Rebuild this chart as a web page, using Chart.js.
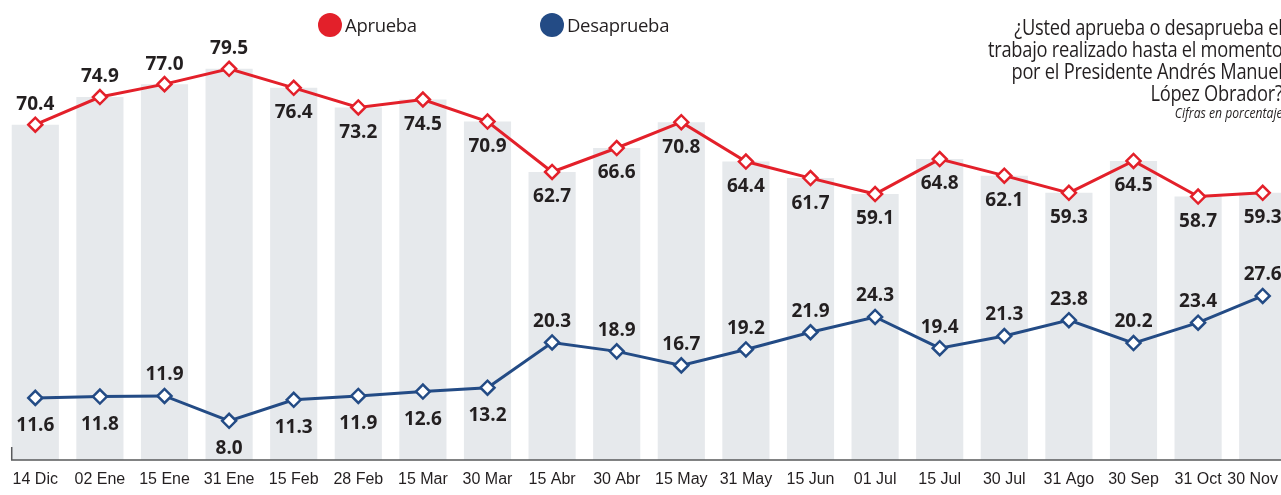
<!DOCTYPE html>
<html>
<head>
<meta charset="utf-8">
<script src="https://cdn.jsdelivr.net/npm/chart.js@4.4.1/dist/chart.umd.min.js"></script>
<style>
  body { margin: 0; background: #fff; }
  #wrap { position: relative; width: 1281px; height: 495px; overflow: hidden; }
  #wrap canvas { position: absolute; left: 0; top: 0; }
  .leg { position: absolute; top: 13px; font-family: "Open Sans", sans-serif; font-size: 18.5px; color: #231f20; line-height: 24px; letter-spacing: -0.3px; }
  .leg span { display: inline-block; width: 24px; height: 24px; border-radius: 50%; vertical-align: top; margin-right: 3px; }
  #title { position: absolute; right: -2px; top: 16px; text-align: right; font-family: "Open Sans", sans-serif; font-size: 21px; line-height: 22px; color: #231f20; white-space: nowrap; transform: scaleX(0.87); transform-origin: right top; letter-spacing: -0.3px; }
  #title i { display: block; font-size: 14px; line-height: 17px; letter-spacing: 0; }
</style>
</head>
<body>
<div id="wrap">
  <canvas id="chart" width="1300" height="495"></canvas>
  <div class="leg" style="left:318px"><span style="background:#e3202a"></span>Aprueba</div>
  <div class="leg" style="left:540px"><span style="background:#234b85"></span>Desaprueba</div>
  <div id="title">¿Usted aprueba o desaprueba el<br>trabajo realizado hasta el momento<br>por el Presidente Andrés Manuel<br>López Obrador?<i>Cifras en porcentaje</i></div>
</div>
<script>
const fechas = ['14 Dic', '02 Ene', '15 Ene', '31 Ene', '15 Feb', '28 Feb', '15 Mar', '30 Mar', '15 Abr', '30 Abr',
  '15 May', '31 May', '15 Jun', '01 Jul', '15 Jul', '30 Jul', '31 Ago', '30 Sep', '31 Oct', '30 Nov'];
const aprueba = [70.4, 74.9, 77.0, 79.5, 76.4, 73.2, 74.5, 70.9, 62.7, 66.6,
  70.8, 64.4, 61.7, 59.1, 64.8, 62.1, 59.3, 64.5, 58.7, 59.3];
const desaprueba = [11.6, 11.8, 11.9, 8.0, 11.3, 11.9, 12.6, 13.2, 20.3, 18.9,
  16.7, 19.2, 21.9, 24.3, 19.4, 21.3, 23.8, 20.2, 23.4, 27.6];

const RED = '#e3202a';
const BLUE = '#234b85';
const VISIBLE_W = 1281;

// numbers above / below the diamonds
const valueLabels = {
  id: 'valueLabels',
  afterDatasetsDraw(chart) {
    const ctx = chart.ctx;
    ctx.save();
    ctx.font = 'bold 19px "Open Sans", sans-serif';
    ctx.fillStyle = '#231f20';
    ctx.textAlign = 'center';
    ctx.textBaseline = 'middle';
    chart.getDatasetMeta(0).data.forEach((pt, i) => {
      const dy = i < 4 ? -20 : 25;
      ctx.fillText(aprueba[i].toFixed(1), pt.x, pt.y + dy);
    });
    chart.getDatasetMeta(1).data.forEach((pt, i) => {
      const below = i < 8 && i !== 2;
      ctx.fillText(desaprueba[i].toFixed(1), pt.x, pt.y + (below ? 28 : -21));
    });
    ctx.restore();
  }
};

// base line under the bars + date labels (last one kept inside the page)
const baseLine = {
  id: 'baseLine',
  afterDatasetsDraw(chart) {
    const ctx = chart.ctx;
    const bar = chart.getDatasetMeta(2).data[0];
    const x0 = bar.x - bar.width / 2;
    const y = chart.chartArea.bottom;
    ctx.save();
    ctx.strokeStyle = '#58595b';
    ctx.lineWidth = 1.5;
    ctx.beginPath();
    ctx.moveTo(x0, y - 13);
    ctx.lineTo(x0, y);
    ctx.lineTo(chart.width, y);
    ctx.stroke();

    ctx.font = '16px "Liberation Sans Narrow", sans-serif';
    ctx.fillStyle = '#231f20';
    ctx.textAlign = 'center';
    ctx.textBaseline = 'middle';
    const xs = chart.scales.x;
    fechas.forEach((f, i) => {
      const w = ctx.measureText(f).width;
      const x = Math.min(xs.getPixelForTick(i), VISIBLE_W - 3 - w / 2);
      ctx.fillText(f, x, y + 20);
    });
    ctx.restore();
  }
};

new Chart(document.getElementById('chart'), {
  data: {
    labels: fechas,
    datasets: [
      {
        type: 'line', label: 'Aprueba', data: aprueba, yAxisID: 'yA', order: 1,
        borderColor: RED, borderWidth: 3, pointStyle: 'rectRot', pointRadius: 7,
        pointBackgroundColor: '#fff', pointBorderColor: RED, pointBorderWidth: 2.5
      },
      {
        type: 'line', label: 'Desaprueba', data: desaprueba, yAxisID: 'yD', order: 2,
        borderColor: BLUE, borderWidth: 3, pointStyle: 'rectRot', pointRadius: 7,
        pointBackgroundColor: '#fff', pointBorderColor: BLUE, pointBorderWidth: 2.5
      },
      {
        type: 'bar', data: aprueba, yAxisID: 'yA', order: 3,
        backgroundColor: '#e6e9ec', categoryPercentage: 1, barPercentage: 0.73
      }
    ]
  },
  options: {
    responsive: false,
    animation: false,
    layout: { autoPadding: false, padding: { left: 3, right: 5, top: 0, bottom: 6 } },
    plugins: { legend: { display: false }, tooltip: { enabled: false } },
    scales: {
      x: {
        offset: true,
        grid: { display: false },
        border: { display: false },
        afterFit(scale) { scale.height = 29; },
        ticks: { display: false, autoSkip: false }
      },
      yA: { display: false, min: 15.8, max: 90.7 },
      yD: { display: false, min: 1.85, max: 74.05 }
    }
  },
  plugins: [valueLabels, baseLine]
});
</script>
</body>
</html>
